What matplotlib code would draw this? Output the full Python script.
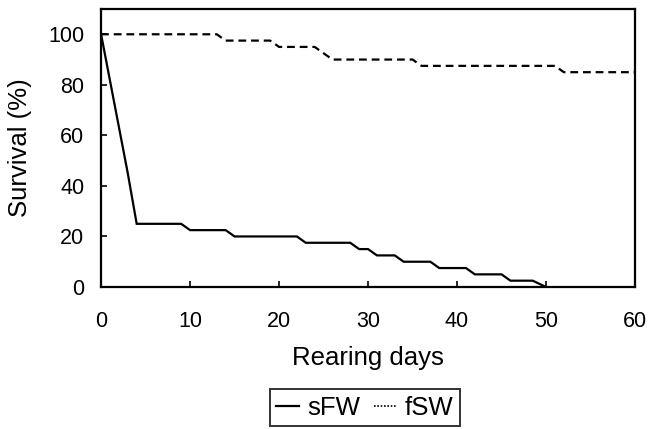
import matplotlib
matplotlib.use("Agg")
import matplotlib.pyplot as plt
from matplotlib.lines import Line2D

plt.rcParams['font.family'] = ['Liberation Sans', 'DejaVu Sans']

# sFW survival (%)
sfw_days = [0, 3, 4, 9, 10, 14, 15, 22, 23, 28, 29, 30, 31, 33, 34, 37, 38, 41, 42, 45, 46, 48.5, 50]
sfw_surv = [100, 45, 25, 25, 22.5, 22.5, 20, 20, 17.5, 17.5, 15, 15, 12.5, 12.5, 10, 10, 7.5, 7.5, 5, 5, 2.5, 2.5, 0]

# fSW survival (%)
fsw_days = [0, 13, 14, 19, 20, 24, 25, 26, 35, 36, 51, 52, 60]
fsw_surv = [100, 100, 97.5, 97.5, 95, 95, 92.5, 90, 90, 87.5, 87.5, 85, 85]

xticks = [0, 10, 20, 30, 40, 50, 60]
yticks = [0, 20, 40, 60, 80, 100]

fig = plt.figure(figsize=(6.48, 4.29), dpi=100)
ax = fig.add_axes([0.156, 0.331, 0.824, 0.648])

ax.plot(sfw_days, sfw_surv, color='black', lw=1.6, solid_joinstyle='miter')
ax.plot(fsw_days, fsw_surv, color='black', lw=1.6, dashes=(3.5, 2.2))

ax.set_xlim(0, 60)
ax.set_ylim(0, 110)
ax.set_xticks(xticks)
ax.set_yticks(yticks)
for s in ax.spines.values():
    s.set_linewidth(1.6)
ax.tick_params(axis='x', direction='in', length=4, width=1.2, labelsize=15.5, pad=17)
ax.tick_params(axis='y', direction='in', length=4, width=1.2, labelsize=15.5, pad=12)

ax.set_xlabel('Rearing days', fontsize=18.5, labelpad=10)
ax.set_ylabel('Survival (%)', fontsize=18.5, labelpad=12)

handles = [Line2D([], [], color='black', lw=1.6),
           Line2D([], [], color='black', lw=1.2, dashes=(1, 1))]
leg = fig.legend(handles, ['sFW', 'fSW'], loc='center', bbox_to_anchor=(0.563, 0.050),
                 ncol=2, fontsize=18.5, frameon=True, fancybox=False, edgecolor='black',
                 handlelength=0.9, handletextpad=0.3, columnspacing=0.55,
                 borderpad=0.25, borderaxespad=0)
leg.get_frame().set_linewidth(1.4)

fig.savefig('out.png', dpi=100)
